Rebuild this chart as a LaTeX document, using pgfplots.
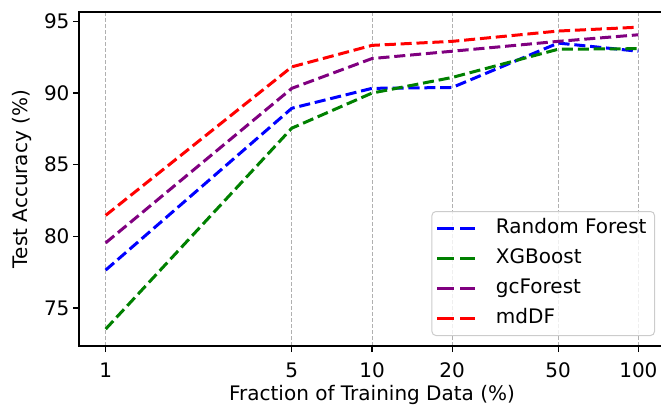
\documentclass[border=0pt]{standalone}
\usepackage{fontspec}
\setmainfont{DejaVu Sans}
\usepackage{pgfplots}
\pgfplotsset{compat=1.18}
\definecolor{mpurple}{RGB}{128,0,128}
\definecolor{mgreen}{RGB}{0,128,0}
\definecolor{mblue}{RGB}{0,0,255}
\definecolor{mred}{RGB}{255,0,0}
\definecolor{gridgray}{RGB}{176,176,176}
\definecolor{leggray}{RGB}{204,204,204}
\newcommand{\bigf}{\fontsize{20}{24}\selectfont}
\begin{document}
\begin{tikzpicture}
\begin{axis}[name=ax, at={(0,0)}, anchor=south west,
  scale only axis, width=586pt, height=334pt,
  xmode=log, log basis x=10,
  xmin=0.7943, xmax=125.89, ymin=72.34, ymax=95.66,
  xtick={1,5,10,20,50,100}, xticklabels={1,5,10,20,50,100}, minor xtick={},
  ytick={75,80,85,90,95},
  tick align=outside, tick pos=left,
  major tick length=6pt, tick style={black, line width=1.2pt},
  axis line style={line width=1.3pt},
  xmajorgrids, major x grid style={gridgray, line width=1pt, dash pattern=on 4pt off 2pt},
  /pgf/number format/assume math mode=true,
  ticklabel style={font=\bigf},
  xticklabel style={yshift=-7pt},
  label style={font=\bigf},
  xlabel={Fraction of Training Data (\%)},
  xlabel style={yshift=-2.5pt, inner ysep=2pt},
  ylabel={Test Accuracy (\%)},
  ylabel style={yshift=5pt},
  legend cell align=left,
  legend image code/.code={\draw[#1, dash pattern=on 17pt off 6pt on 15pt off 50pt] (0pt,0pt) -- (38pt,0pt);},
  legend style={at={(1,0)}, anchor=south east, xshift=-10pt, yshift=10pt,
    font=\bigf, draw=leggray, line width=1pt, rounded corners=4pt,
    fill=white, fill opacity=0.8, text opacity=1,
    inner xsep=4pt, inner ysep=2pt, column sep=15pt, row sep=0pt,
    nodes={inner xsep=4pt, inner ysep=5.5pt, text height=14.5pt, text depth=4.5pt}},
  every axis plot/.append style={line width=3pt, dash pattern=on 11.1pt off 4.8pt, line join=round},
]
\addplot[mblue] coordinates {(1,77.64) (5,88.94) (10,90.33) (20,90.39) (50,93.49) (100,92.92)};
\addlegendentry{Random Forest}
\addplot[mgreen] coordinates {(1,73.52) (5,87.55) (10,90.0) (20,91.09) (50,93.06) (100,93.1)};
\addlegendentry{XGBoost}
\addplot[mpurple] coordinates {(1,79.54) (5,90.33) (10,92.41) (20,92.92) (50,93.61) (100,94.07)};
\addlegendentry{gcForest}
\addplot[mred] coordinates {(1,81.46) (5,91.83) (10,93.33) (20,93.61) (50,94.33) (100,94.6)};
\addlegendentry{mdDF}
\end{axis}
\pgfresetboundingbox
\path[use as bounding box] ([shift={(-79pt,-62pt)}]ax.south west) rectangle ([shift={(-4pt,12pt)}]ax.north east);
\end{tikzpicture}
\end{document}
